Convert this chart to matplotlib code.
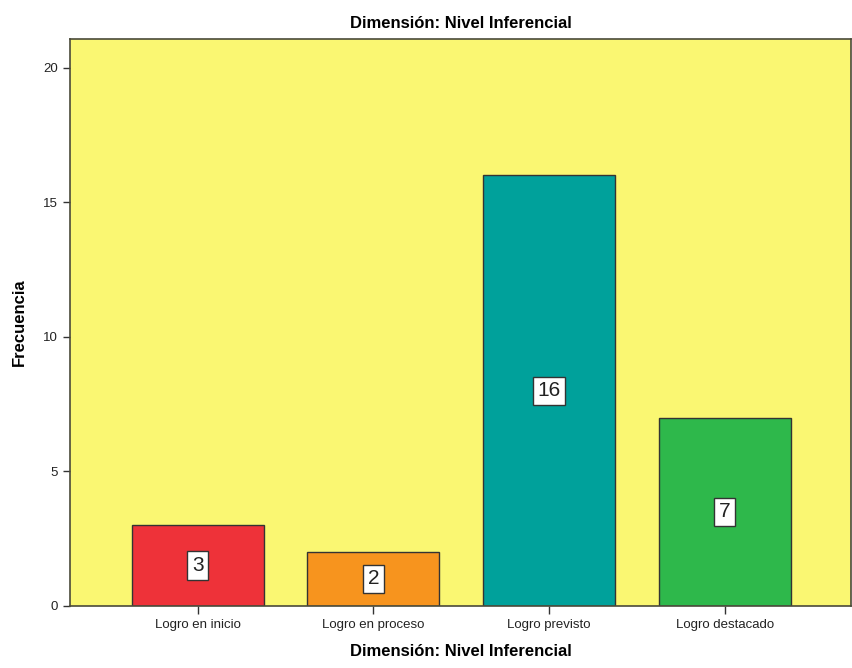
import matplotlib
matplotlib.use('Agg')
import matplotlib.pyplot as plt

plt.rcParams['font.family'] = ['Liberation Sans', 'DejaVu Sans']

# Datos
categorias = ['Logro en inicio', 'Logro en proceso', 'Logro previsto', 'Logro destacado']
frecuencias = [3, 2, 16, 7]
colores = ['#EE3239', '#F7941E', '#00A19B', '#2EB84B']

fig = plt.figure(figsize=(8.53, 6.68), dpi=100)
ax = fig.add_axes([0.082, 0.093, 0.916, 0.849])
ax.set_facecolor('#FAF772')

x = range(len(categorias))
ax.bar(x, frecuencias, width=0.75, color=colores, edgecolor='#333333', linewidth=1)

# Etiquetas de valores en el centro de cada barra
for i, v in enumerate(frecuencias):
    ax.text(i, v / 2, str(v), ha='center', va='center', fontsize=15, color='#222222',
            bbox=dict(boxstyle='square,pad=0.22', facecolor='white', edgecolor='#333333', linewidth=1))

ax.set_xlim(-0.727, 3.72)
ax.set_ylim(0, 21.08)
ax.set_yticks([0, 5, 10, 15, 20])
ax.set_xticks(list(x))
ax.set_xticklabels(categorias, fontsize=9.5)
ax.tick_params(axis='y', labelsize=9.5, length=5, width=1, color='#333333', labelcolor='#222222')
ax.tick_params(axis='x', length=6, width=1, color='#333333', labelcolor='#222222')
for s in ax.spines.values():
    s.set_color('#4a4a3a')
    s.set_linewidth(1.2)

ax.set_xlabel('Dimensión: Nivel Inferencial', fontsize=12, fontweight='bold', labelpad=9)
ax.set_ylabel('Frecuencia', fontsize=12, fontweight='bold', labelpad=12)
ax.set_title('Dimensión: Nivel Inferencial', fontsize=12, fontweight='bold', pad=8)

plt.savefig('out.png', dpi=100)
